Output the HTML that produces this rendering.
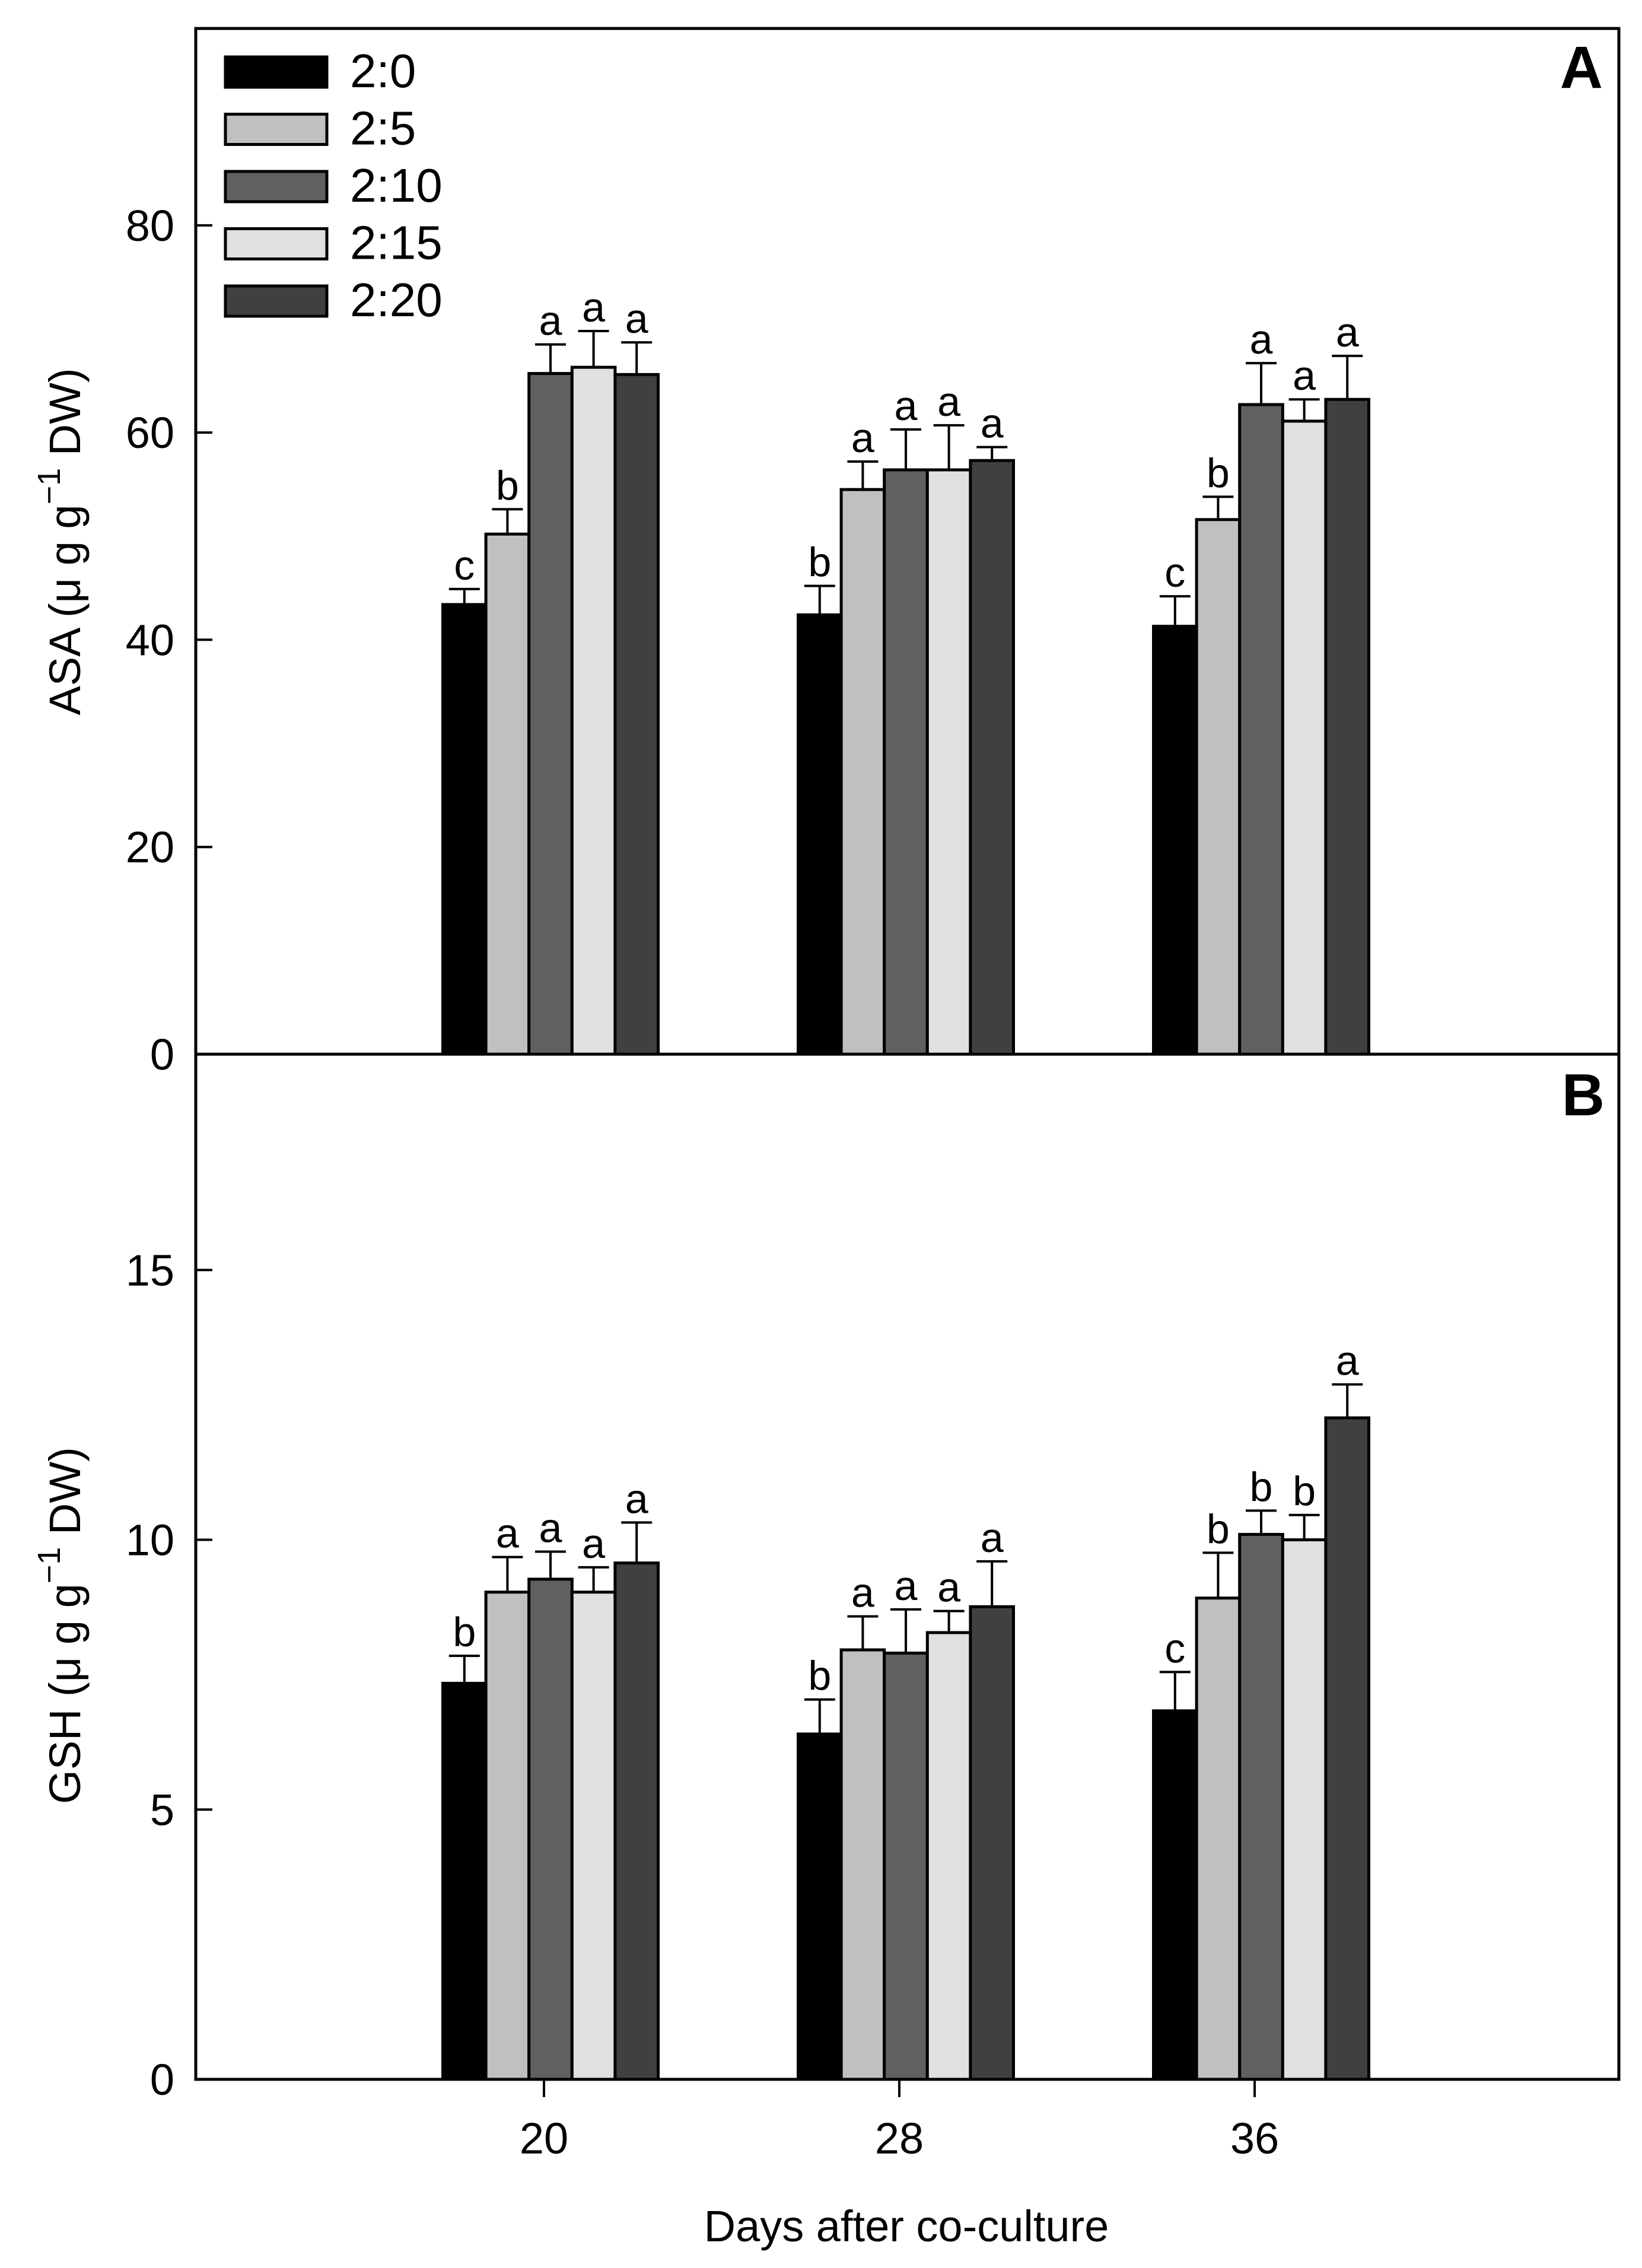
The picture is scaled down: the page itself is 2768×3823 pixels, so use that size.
<!DOCTYPE html>
<html><head><meta charset="utf-8"><style>
html,body{margin:0;padding:0;background:#fff;}
svg{display:block;font-family:"Liberation Sans",Arial,sans-serif;}
</style></head><body>
<svg id="chart" xmlns="http://www.w3.org/2000/svg" width="2768" height="3823" viewBox="0 0 2768 3823">
<rect x="0" y="0" width="2768" height="3823" fill="#fff"/>
<g id="panels"></g>
<text x="1528" y="3778" font-size="74" text-anchor="middle">Days after co-culture</text>
<text x="2702" y="148" font-size="100" font-weight="bold" text-anchor="end">A</text>
<text x="2705" y="1880" font-size="100" font-weight="bold" text-anchor="end">B</text>
<text transform="translate(135,913) rotate(-90)" font-size="74" text-anchor="middle">ASA (μ g g<tspan font-size="54" dy="-34">−1</tspan><tspan dy="34"> DW)</tspan></text>
<text transform="translate(135,2740) rotate(-90)" font-size="74" text-anchor="middle">GSH (μ g g<tspan font-size="54" dy="-34">−1</tspan><tspan dy="34"> DW)</tspan></text>
<g id="legend"></g>
</svg>
<script>
const categories = ["20", "28", "36"];
const seriesNames = ["2:0", "2:5", "2:10", "2:15", "2:20"];
const asaValues = [[43.4,50.2,65.7,66.3,65.6],[42.4,54.5,56.4,56.4,57.3],[41.3,51.6,62.7,61.1,63.2]];
const asaErrTop = [[44.9,52.6,68.5,69.8,68.7],[45.2,57.2,60.3,60.7,58.6],[44.2,53.8,66.7,63.2,67.4]];
const asaLetters = [["c","b","a","a","a"],["b","a","a","a","a"],["c","b","a","a","a"]];
const asaTicks = [0,20,40,60,80];
const gshValues = [[7.34,9.03,9.27,9.03,9.57],[6.4,7.96,7.9,8.28,8.76],[6.83,8.92,10.1,10.0,12.26]];
const gshErrTop = [[7.85,9.68,9.78,9.49,10.32],[7.04,8.58,8.71,8.68,9.6],[7.55,9.76,10.54,10.46,12.88]];
const gshLetters = [["b","a","a","a","a"],["b","a","a","a","a"],["c","b","b","b","a"]];
const gshTicks = [0,5,10,15];

const NS="http://www.w3.org/2000/svg";
const colors=["#000000","#c0c0c0","#606060","#e0e0e0","#404040"];
const X0=330, X1=2729;
const catX = i => 917 + i*599;
const BW = 72.6;
const BAR_OFFSET = 11;
function mk(tag, attrs, parent){const e=document.createElementNS(NS,tag);for(const k in attrs)e.setAttribute(k,attrs[k]);parent.appendChild(e);return e;}
const root=document.getElementById('panels');

function panel(key, top, bottom, ymax, values, errs, letters, ticks, showX){
  const y = v => bottom - v/ymax*(bottom-top);
  const g=mk('g',{},root);
  
  
  values.forEach((grp,ci)=>{
    grp.forEach((v,si)=>{
      const x = catX(ci) + BAR_OFFSET - 2.5*BW + si*BW;
      const r=mk('rect',{x:x,y:y(v),width:BW,height:bottom-y(v),fill:colors[si],stroke:'#000','stroke-width':5},g);
      
      
      const cx=x+BW/2, et=y(errs[ci][si]);
      const l=mk('path',{d:`M${cx},${y(v)}V${et}M${cx-26},${et}H${cx+26}`,stroke:'#000','stroke-width':4,fill:'none'},g);
      
      
      const t=mk('text',{x:cx,y:et-16,'font-size':70,'text-anchor':'middle'},g);
      t.textContent=letters[ci][si];
      
      
    });
  });
  const f=mk('rect',{x:X0,y:top,width:X1-X0,height:bottom-top,fill:'none',stroke:'#000','stroke-width':5},g);
  
  
  ticks.forEach(tv=>{
    mk('path',{d:`M${X0},${y(tv)}H${X0+28}`,stroke:'#000','stroke-width':4},g);
    const t=mk('text',{x:X0-36,y:y(tv)+26,'font-size':74,'text-anchor':'end'},g);
    t.textContent=tv;
    
    
  });
  if(showX){
    categories.forEach((c,ci)=>{
      mk('path',{d:`M${catX(ci)},${bottom}V${bottom+30}`,stroke:'#000','stroke-width':4},g);
      const t=mk('text',{x:catX(ci),y:3630,'font-size':74,'text-anchor':'middle'},g);
      t.textContent=c;
      
      
    });
  }
}
panel('asa',48,1777,99,asaValues,asaErrTop,asaLetters,asaTicks,false);
panel('gsh',1777,3505,19,gshValues,gshErrTop,gshLetters,gshTicks,true);

const lg=document.getElementById('legend');
seriesNames.forEach((n,i)=>{
  const yy=96+i*96.5;
  const r=mk('rect',{x:380,y:yy,width:171,height:51,fill:colors[i],stroke:'#000','stroke-width':5},lg);
  
  
  const t=mk('text',{x:590,y:yy+51,'font-size':80},lg);
  t.textContent=n;
  
  
});
</script>
</body></html>
